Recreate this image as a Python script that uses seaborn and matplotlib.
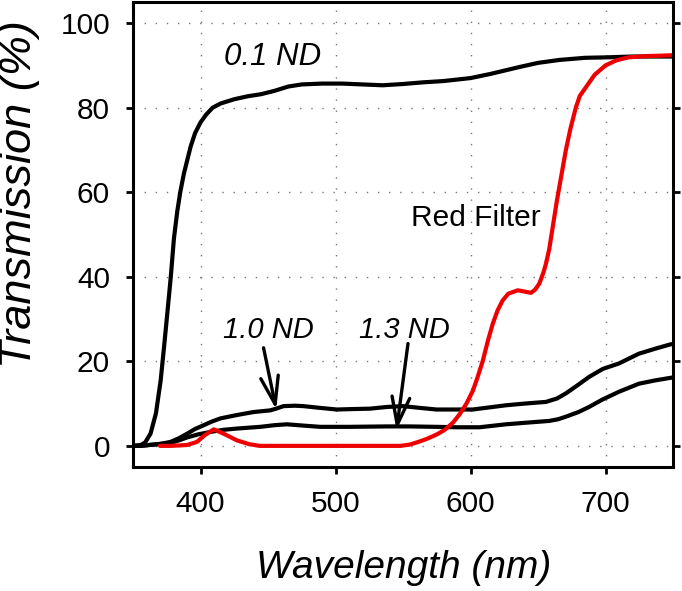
import numpy as np
import pandas as pd
import matplotlib
matplotlib.use("Agg")
import matplotlib.pyplot as plt
import seaborn as sns

# ---- data ----
nd01_wl = [350, 355.7, 359, 363, 367, 370.5, 373, 375.4, 378, 380.3, 382.8, 385, 387.7, 392.6, 396,
           400, 404, 409, 415, 425, 435, 445, 455, 465, 475, 490, 505, 520, 535, 550, 565, 580,
           600, 615, 636, 650, 666, 685, 700, 720, 750]
nd01_t = [0, 0.2, 0.8, 2.9, 7.7, 15.5, 23.4, 31.3, 40, 49, 55.5, 60, 64.4, 70.7, 74,
          76.5, 78.3, 80, 81, 82, 82.7, 83.2, 84, 85, 85.5, 85.7, 85.7, 85.5, 85.3, 85.6, 86, 86.3,
          87, 88, 89.6, 90.6, 91.3, 91.8, 91.9, 92.1, 92.1]

nd10_wl = [350, 355.7, 365, 371, 377.9, 384, 390.2, 396, 402.5, 408, 414.8, 427.1, 439.3, 451.7,
           456, 461.5, 470, 476.2, 488, 500.9, 512, 525.5, 538, 550, 562, 574.7, 590, 601.7, 614,
           626.3, 640, 655.9, 664, 670.6, 680, 687.8, 698, 710, 724.7, 737, 748, 750]
nd10_t = [0, 0, 0.3, 0.5, 0.95, 1.8, 2.9, 4, 4.9, 5.7, 6.5, 7.3, 8.0, 8.4,
          8.8, 9.4, 9.5, 9.4, 9.0, 8.6, 8.7, 8.8, 9.2, 9.4, 9.0, 8.6, 8.6, 8.6, 9.1,
          9.6, 10.0, 10.4, 11.2, 12.4, 14.5, 16.3, 18.2, 19.5, 21.8, 23.0, 24.0, 24.1]

nd13_wl = [350, 355.7, 365, 377.9, 384, 390.2, 398, 407.4, 417, 427.1, 444.3, 455, 464, 476,
           488.6, 510, 537.8, 555, 574.7, 590, 606.6, 626.3, 642, 658.3, 665, 670.6, 680, 687.8,
           698, 710, 724.7, 737, 748.3, 750]
nd13_t = [0, 0, 0.3, 0.7, 1.3, 2.0, 2.7, 3.3, 3.8, 4.1, 4.5, 4.9, 5.1, 4.8,
          4.5, 4.5, 4.6, 4.6, 4.5, 4.4, 4.4, 5.1, 5.5, 5.9, 6.3, 6.9, 8.0, 9.2,
          11.0, 12.8, 14.7, 15.5, 16.1, 16.2]

red_wl = [370, 378, 390, 397.5, 403, 409.8, 417, 427, 436, 444, 500, 548, 555, 562, 568, 575,
          581, 587, 592, 597, 601.7, 605, 609, 613, 616.5, 620, 623.8, 628, 635, 640, 644.8,
          648, 651, 654, 655.9, 658.3, 664, 670.6, 674, 678, 681, 685.4, 692, 700, 708, 717,
          730, 750]
red_t = [0, 0, 0.2, 0.95, 2.5, 3.9, 2.9, 1.3, 0.4, 0, 0, 0, 0.3, 1.0, 1.7, 2.7,
         3.8, 5.5, 7.5, 10, 13, 16, 20, 25, 28.9, 32, 34.4, 36, 36.8, 36.5, 36.2,
         37, 38.4, 41, 43.1, 46.5, 58, 69.9, 75, 80, 82.8, 84.8, 87.8, 90, 91.2, 91.9,
         92.2, 92.4]

x_ticks = [400, 500, 600, 700]
y_ticks = [0, 20, 40, 60, 80, 100]

# ---- style ----
sns.set_theme(style="ticks")
plt.rcParams['font.family'] = ['Liberation Sans', 'DejaVu Sans']
plt.rcParams['text.color'] = 'black'
plt.rcParams['axes.labelcolor'] = 'black'

fig = plt.figure(figsize=(6.82, 5.91), dpi=100)
ax = fig.add_axes([133 / 682, 1 - 467 / 591, 540 / 682, 465 / 591])

lw = 3.0
for wl, t, c in [(nd01_wl, nd01_t, 'black'), (nd10_wl, nd10_t, 'black'),
                 (nd13_wl, nd13_t, 'black'), (red_wl, red_t, '#ee0000')]:
    df = pd.DataFrame({'wl': wl, 't': t})
    sns.lineplot(data=df, x='wl', y='t', ax=ax, color=c, linewidth=lw, sort=True,
                 solid_joinstyle='round', solid_capstyle='round')

ax.set_xlim(350, 750)
ax.set_ylim(-5, 105)
ax.set_xticks(x_ticks)
ax.set_yticks(y_ticks)
ax.grid(True, color='#777777', linestyle=(0, (1, 7)), linewidth=1.0)

for s in ax.spines.values():
    s.set_visible(True)
    s.set_linewidth(2.2)
    s.set_color('black')

ax.tick_params(axis='both', direction='out', length=5, width=2, labelsize=21.5,
               pad=11.5, colors='black')
ax.tick_params(axis='y', right=True, left=True)

ax.set_xlabel('Wavelength (nm)', fontsize=28, fontstyle='italic', va='center')
ax.xaxis.set_label_coords(0.502, -0.217)
ax.set_ylabel('Transmission (%)', fontsize=32.5, fontstyle='italic', va='center')
ax.yaxis.set_label_coords(-0.211, 0.587)

ax.text(453.5, 92, '0.1 ND', fontsize=22.5, fontstyle='italic', ha='center', va='center')
ax.text(604.2, 53.9, 'Red Filter', fontsize=21.5, ha='center', va='center')
ax.text(450.4, 27.4, '1.0 ND', fontsize=21, fontstyle='italic', ha='center', va='center')
ax.text(551.3, 27.4, '1.3 ND', fontsize=21, fontstyle='italic', ha='center', va='center')

arrow_kw = dict(arrowstyle='->,head_length=1.0,head_width=0.32', color='black', lw=2.4,
                shrinkA=0, shrinkB=0, mutation_scale=20)
ax.annotate('', xy=(456.1, 8.6), xytext=(446.7, 23.2), arrowprops=arrow_kw)
ax.annotate('', xy=(545.2, 3.7), xytext=(553.7, 24.2), arrowprops=arrow_kw)

fig.savefig('out.png', dpi=100)
